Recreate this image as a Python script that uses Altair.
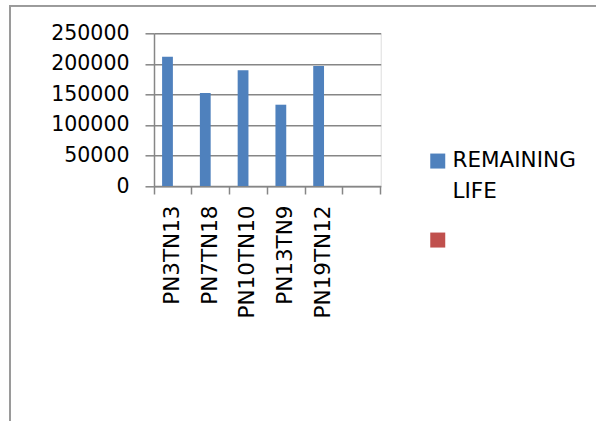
import altair as alt
import pandas as pd

categories = ["PN3TN13", "PN7TN18", "PN10TN10", "PN13TN9", "PN19TN12"]
remaining_life = [211700, 152300, 189400, 133100, 196500]
series_names = ["REMAINING LIFE", " "]
series_colors = ["#4F81BD", "#C0504D"]
x_domain = categories + [""]
y_ticks = [0, 50000, 100000, 150000, 200000, 250000]

df = pd.DataFrame({"cat": categories, "value": remaining_life, "series": series_names[0]})

FONT = "DejaVu Sans"
GRAY = "#868686"

bars = alt.Chart(df).mark_bar(size=10.8).encode(
    x=alt.X("cat:N", sort=x_domain,
            scale=alt.Scale(domain=x_domain, paddingInner=0, paddingOuter=0),
            axis=alt.Axis(title=None, labelAngle=270, labelFont=FONT, labelFontSize=21.5,
                          labelColor="black", labelPadding=11, bandPosition=1, tickExtra=True,
                          tickSize=8, tickColor=GRAY, tickWidth=1.5, domainColor=GRAY,
                          domainWidth=1.5, grid=False)),
    xOffset=alt.XOffset("series:N", scale=alt.Scale(domain=series_names, paddingInner=0, paddingOuter=0.75)),
    y=alt.Y("value:Q", scale=alt.Scale(domain=[0, 250000], nice=False),
            axis=alt.Axis(title=None, values=y_ticks, format="d", labelFont=FONT, labelFontSize=20.5,
                          labelColor="black", labelPadding=16, tickSize=9, tickColor=GRAY,
                          tickWidth=1.5, domainColor=GRAY, domainWidth=1.5, gridColor=GRAY,
                          gridWidth=1.5)),
    color=alt.Color("series:N", scale=alt.Scale(domain=series_names, range=series_colors),
                    legend=alt.Legend(title=None, orient="none", legendX=273, legendY=117,
                                      symbolType="square", symbolSize=225, symbolStrokeWidth=0,
                                      symbolOpacity=1,
                                      labelFont=FONT, labelFontSize=21.5, labelColor="black",
                                      labelOffset=4, labelBaseline="middle",
                                      labelExpr="datum.label == 'REMAINING LIFE' ? ['REMAINING', 'LIFE'] : ''",
                                      rowPadding=25, padding=0, labelLimit=300)),
)

border_top = alt.Chart(df).mark_rule(color="#9a9a9a", strokeWidth=1.5).encode(
    x=alt.value(-144), x2=alt.value(442), y=alt.value(-27.5))
border_left = alt.Chart(df).mark_rule(color="#9a9a9a", strokeWidth=1.5).encode(
    x=alt.value(-144), y=alt.value(-28), y2=alt.value(400))

chart = alt.layer(bars, border_top, border_left).properties(
    width=226.7, height=152.7,
    autosize=alt.AutoSizeParams(type="none"),
    padding={"left": 154, "top": 33.3, "right": 215.3, "bottom": 235},
    background="white",
).configure_view(stroke=None).configure(
    style={"guide-label": {"lineHeight": 31}}
)

chart.save("out.html", embed_options={"renderer": "svg", "actions": False})
